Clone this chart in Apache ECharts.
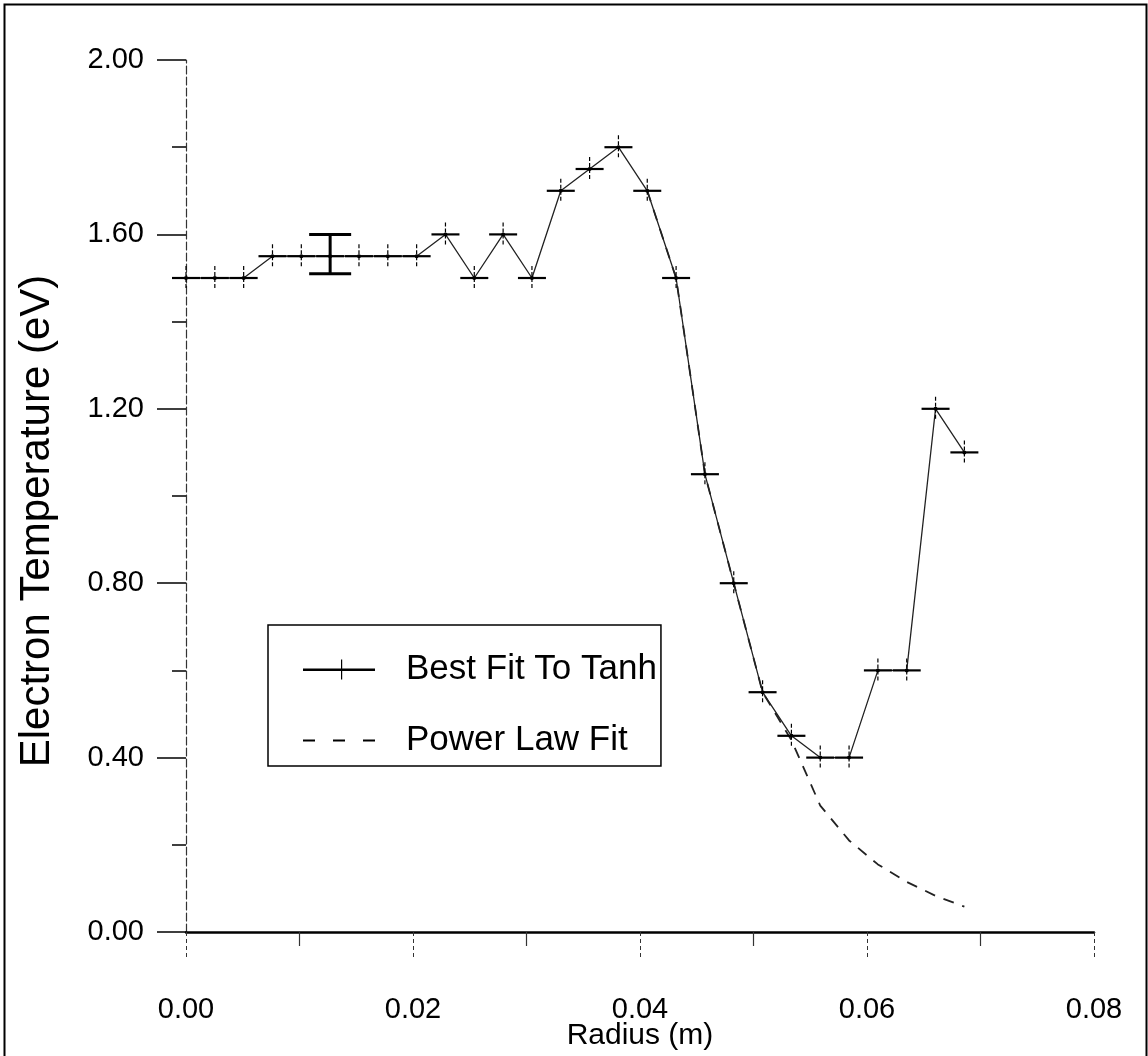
<!DOCTYPE html>
<html>
<head>
<meta charset="utf-8">
<script src="https://cdn.jsdelivr.net/npm/echarts@6/dist/echarts.min.js"></script>
<style>
html,body{margin:0;padding:0;background:#fff;}
#chart{width:1148px;height:1056px;}
</style>
</head>
<body>
<div id="chart"></div>
<script>
// Radius (m) of each measured point
const radius = [0, 0.00254, 0.00508, 0.00762, 0.01016, 0.0127, 0.01524, 0.01778, 0.02032, 0.02286,
  0.0254, 0.02794, 0.03048, 0.03302, 0.03556, 0.0381, 0.04064, 0.04318, 0.04572, 0.04826,
  0.0508, 0.05334, 0.05588, 0.05842, 0.06096, 0.0635, 0.06604, 0.06858];
// Best Fit To Tanh electron temperature (eV)
const bestFit = [1.50, 1.50, 1.50, 1.55, 1.55, 1.55, 1.55, 1.55, 1.55, 1.60,
  1.50, 1.60, 1.50, 1.70, 1.75, 1.80, 1.70, 1.50, 1.05, 0.80,
  0.55, 0.45, 0.40, 0.40, 0.60, 0.60, 1.20, 1.10];
// Power law fit (radius values, temperatures)
const powerRadius = [0.04064, 0.04318, 0.04572, 0.04826, 0.0508, 0.05334, 0.05588, 0.05842, 0.06096, 0.0635, 0.06604, 0.06858];
const powerFit = [1.70, 1.50, 1.05, 0.80, 0.55, 0.44, 0.29, 0.21, 0.155, 0.115, 0.083, 0.058];
// Single error bar
const errRadius = [0.0127];
const errLow = [1.51];
const errHigh = [1.60];
// Axis ticks
const xTicks = [0.00, 0.02, 0.04, 0.06, 0.08];
const yTicks = [0.00, 0.40, 0.80, 1.20, 1.60, 2.00];

const FONT = '"Liberation Sans", Arial, sans-serif';
const chart = echarts.init(document.getElementById('chart'), null, {renderer: 'canvas'});

const bestData = radius.map((r, i) => [r, bestFit[i]]);
const powerData = powerRadius.map((r, i) => [r, powerFit[i]]);
const errData = errRadius.map((r, i) => [r, errLow[i], errHigh[i]]);

const crossIcon = 'path://M0,11L72,11L72,13.5L0,13.5Z M38,2L39.2,2L39.2,22L38,22Z';
const dashIcon = 'path://M0,11L12,11L12,13L0,13Z M30,11L42,11L42,13L30,13Z M60,11L72,11L72,13L60,13Z';

chart.setOption({
  animation: false,
  backgroundColor: '#fff',
  textStyle: {fontFamily: FONT},
  graphic: [{
    type: 'rect', left: 2, top: 2,
    shape: {width: 1142, height: 1070},
    style: {fill: 'none', stroke: '#000', lineWidth: 2},
    silent: true
  }],
  grid: {left: 186, right: 54, top: 60, bottom: 124, containLabel: false, outerBoundsMode: 'none'},
  legend: {
    orient: 'vertical',
    left: 268, top: 625,
    padding: [27, 4, 8, 35],
    itemWidth: 72, itemHeight: 24,
    itemGap: 36,
    borderColor: '#000', borderWidth: 1.5,
    textStyle: {fontFamily: FONT, fontSize: 35, color: '#000', padding: [0, 0, 0, 26], lineHeight: 35},
    data: [
      {name: 'Best Fit To Tanh', icon: crossIcon, itemStyle: {color: '#000'}},
      {name: 'Power Law Fit', icon: dashIcon, itemStyle: {color: '#000'}}
    ]
  },
  xAxis: {
    type: 'value', min: 0, max: 0.08, interval: 0.02,
    name: 'Radius (m)', nameLocation: 'middle', nameGap: 89, nameMoveOverlap: false,
    nameTextStyle: {fontFamily: FONT, fontSize: 30, color: '#000'},
    axisLine: {show: true, onZero: false, lineStyle: {color: '#000', width: 2.5}},
    axisTick: {show: true, length: 28, lineStyle: {color: '#333', width: 1, type: [4, 3]}},
    minorTick: {show: true, splitNumber: 2, length: 14, lineStyle: {color: '#333', width: 1.2}},
    axisLabel: {margin: 63, fontFamily: FONT, fontSize: 29, color: '#000',
      formatter: v => xTicks.find(t => Math.abs(t - v) < 1e-9) !== undefined ? v.toFixed(2) : ''},
    splitLine: {show: false}
  },
  yAxis: {
    type: 'value', min: 0, max: 2.0, interval: 0.4,
    name: 'Electron Temperature (eV)', nameLocation: 'middle', nameGap: 128, nameRotate: 90, nameMoveOverlap: false,
    nameTextStyle: {fontFamily: FONT, fontSize: 42, color: '#000', padding: [0, 50, 0, 0]},
    axisLine: {show: true, onZero: false, lineStyle: {color: '#333', width: 1.2, type: [8, 3]}},
    axisTick: {show: true, length: 29, lineStyle: {color: '#000', width: 1.5}},
    minorTick: {show: true, splitNumber: 2, length: 14, lineStyle: {color: '#000', width: 1.5}},
    axisLabel: {margin: 42, fontFamily: FONT, fontSize: 29, color: '#000',
      formatter: v => yTicks.find(t => Math.abs(t - v) < 1e-9) !== undefined ? v.toFixed(2) : ''},
    splitLine: {show: false}
  },
  series: [
    {
      name: 'Power Law Fit', type: 'line', data: powerData, showSymbol: false, symbol: 'none',
      lineStyle: {color: '#222', width: 1.8, type: [11, 9]}, z: 2
    },
    {
      name: 'Best Fit To Tanh', type: 'line', data: bestData, showSymbol: false, symbol: 'none',
      lineStyle: {color: '#222', width: 1.3}, z: 3
    },
    {
      name: 'Best Fit To Tanh', type: 'custom', data: bestData, z: 4,
      renderItem: function (params, api) {
        const p = api.coord([api.value(0), api.value(1)]);
        return {type: 'group', children: [
          {type: 'line', shape: {x1: p[0] - 14, y1: p[1], x2: p[0] + 14, y2: p[1]}, style: {stroke: '#000', lineWidth: 2.2}},
          {type: 'line', shape: {x1: p[0], y1: p[1] - 12, x2: p[0], y2: p[1] + 12}, style: {stroke: '#000', lineWidth: 1.2, lineDash: [4, 2]}},
          {type: 'circle', shape: {cx: p[0], cy: p[1], r: 2}, style: {fill: '#000'}}
        ]};
      }
    },
    {
      name: 'Error', type: 'custom', data: errData, z: 5,
      renderItem: function (params, api) {
        const lo = api.coord([api.value(0), api.value(1)]);
        const hi = api.coord([api.value(0), api.value(2)]);
        const st = {stroke: '#000', lineWidth: 3};
        return {type: 'group', children: [
          {type: 'line', shape: {x1: lo[0], y1: lo[1], x2: hi[0], y2: hi[1]}, style: st},
          {type: 'line', shape: {x1: lo[0] - 21, y1: lo[1], x2: lo[0] + 21, y2: lo[1]}, style: st},
          {type: 'line', shape: {x1: hi[0] - 21, y1: hi[1], x2: hi[0] + 21, y2: hi[1]}, style: st}
        ]};
      }
    }
  ]
});
</script>
</body>
</html>
